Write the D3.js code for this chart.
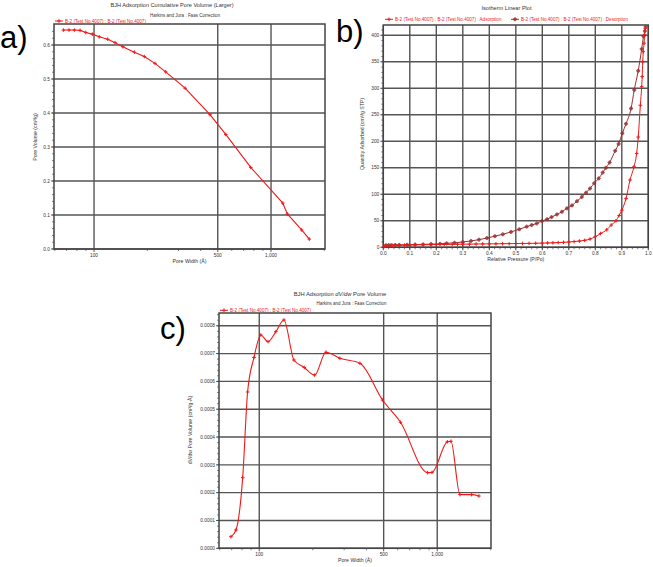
<!DOCTYPE html>
<html><head><meta charset="utf-8">
<script src="https://cdn.jsdelivr.net/npm/d3@7/dist/d3.min.js"></script>
<style>body{margin:0;background:#fff} svg{display:block} text{font-family:Arial,"Liberation Sans",sans-serif}</style>
</head><body><svg id="chart" width="653" height="567"></svg>
<script>
// ---- Panel a: BJH Adsorption Cumulative Pore Volume ----
const cumWidth  = [67.1, 72.2, 77.4, 83.4, 89.8, 97.8, 107, 119.5, 131.4, 145.3, 169, 192.4, 221, 254, 327, 452, 555, 768, 1165, 1236, 1490, 1645];
const cumVolume = [0.644, 0.644, 0.644, 0.643, 0.637, 0.632, 0.624, 0.617, 0.607, 0.595, 0.579, 0.566, 0.546, 0.521, 0.473, 0.395, 0.337, 0.240, 0.135, 0.103, 0.056, 0.029];
// ---- Panel b: Isotherm ----
const adsP = [0.003,0.008,0.015,0.025,0.035,0.045,0.06,0.08,0.10,0.12,0.15,0.18,0.20,0.23,0.26,0.28,0.30,0.325,0.35,0.375,0.40,0.425,0.45,0.475,0.50,0.525,0.55,0.575,0.60,0.62,0.64,0.66,0.68,0.70,0.72,0.74,0.76,0.78,0.80,0.82,0.843,0.86,0.878,0.89,0.90,0.916,0.931,0.946,0.956,0.962,0.970,0.975,0.977,0.979,0.981,0.984,0.986,0.989];
const adsQ = [1.5,2.6,3.0,3.3,3.5,3.7,3.9,4.1,4.3,4.5,4.8,5.0,5.2,5.4,5.6,5.8,5.9,6.0,6.2,6.3,6.5,6.6,6.8,6.9,7.1,7.2,7.4,7.6,7.9,8.2,8.5,8.9,9.4,10.0,10.8,11.8,13.2,15.5,20,26,33,42,50,60,70,92,127,152,177,208,268,303,322,350,369,385,401,413];
const desP = [0.990,0.987,0.982,0.975,0.962,0.947,0.935,0.916,0.902,0.888,0.875,0.854,0.840,0.828,0.813,0.796,0.780,0.765,0.749,0.731,0.712,0.693,0.674,0.655,0.635,0.618,0.599,0.579,0.560,0.541,0.513,0.482,0.451,0.421,0.391,0.361,0.331,0.300,0.269,0.239,0.214,0.180,0.150,0.120,0.090,0.060,0.045,0.030,0.020,0.010];
const desQ = [416,408,398,374,333,297,262,233,215,195,182,160,150,141,130,121,111,103,95,87,79,73.5,67,62,57,53,49.6,45,42,39,34,29,24.5,21,17.5,14.4,12,10,8.5,7.5,6.5,6,5.5,5.2,4.8,4.5,4.3,4.1,4.0,3.8];
// ---- Panel c: dV/dw ----
const dvWidth = [69.3, 74, 80.7, 86, 93.4, 102, 112, 124, 137.6, 156.6, 179, 204.8, 237, 284, 368, 493, 622, 883, 935, 1140, 1194, 1342, 1561, 1716];
const dvValue = [0.0000417, 0.0000658, 0.000254, 0.000562, 0.000686, 0.000767, 0.000743, 0.000779, 0.000821, 0.000677, 0.000650, 0.000623, 0.000705, 0.000683, 0.000665, 0.000533, 0.000453, 0.000272, 0.000273, 0.000383, 0.000385, 0.000193, 0.000193, 0.000188];
// ---- ticks ----
const logTicks = [100, 500, 1000];
const logTickLabels = ["100", "500", "1,000"];
const logMinor = [60,70,80,90,200,300,400,600,700,800,900,2000];
const cumYTicks = [0, 0.1, 0.2, 0.3, 0.4, 0.5, 0.6];
const isoXTicks = [0,0.1,0.2,0.3,0.4,0.5,0.6,0.7,0.8,0.9,1.0];
const isoYTicks = [0,50,100,150,200,250,300,350,400];
const dvYTicks = [0,0.0001,0.0002,0.0003,0.0004,0.0005,0.0006,0.0007,0.0008];

const svg = d3.select("#chart");
svg.append("rect").attr("width",653).attr("height",567).attr("fill","#fff");
const RED = "#f01818", BROWN = "#9a3030", GRID = "#555";

function panel(o){
  const g = svg.append("g");
  const x = o.x, y = o.y;
  const [x0,x1] = x.range(), [y0,y1] = y.range();
  o.xTicks.forEach(t=>g.append("line").attr("x1",x(t)).attr("x2",x(t)).attr("y1",y0).attr("y2",y1).attr("stroke",GRID).attr("stroke-width",1.4));
  o.yTicks.forEach(t=>g.append("line").attr("x1",x0).attr("x2",x1).attr("y1",y(t)).attr("y2",y(t)).attr("stroke",GRID).attr("stroke-width",1.4));
  o.xMinor.forEach(t=>{ if(x(t)>=x0 && x(t)<=x1) g.append("line").attr("x1",x(t)).attr("x2",x(t)).attr("y1",y0).attr("y2",y0+2).attr("stroke","#333").attr("stroke-width",0.6);});
  o.yMinor.forEach(t=>{ if(y(t)<=y0 && y(t)>=y1) g.append("line").attr("x1",x0).attr("x2",x0-2).attr("y1",y(t)).attr("y2",y(t)).attr("stroke","#333").attr("stroke-width",0.6);});
  o.xTicks.forEach(t=>g.append("line").attr("x1",x(t)).attr("x2",x(t)).attr("y1",y0).attr("y2",y0+3).attr("stroke","#333").attr("stroke-width",0.8));
  o.yTicks.forEach(t=>g.append("line").attr("x1",x0).attr("x2",x0-3).attr("y1",y(t)).attr("y2",y(t)).attr("stroke","#333").attr("stroke-width",0.8));
  g.append("rect").attr("x",x0).attr("y",y1).attr("width",x1-x0).attr("height",y0-y1).attr("fill","none").attr("stroke","#444").attr("stroke-width",1.5);
  o.xTicks.forEach((t,i)=>g.append("text").attr("x",x(t)).attr("y",y0+8).attr("text-anchor","middle").attr("font-size",4.8).attr("fill","#333").text(o.xLabels[i]));
  o.yTicks.forEach((t,i)=>g.append("text").attr("x",x0-4).attr("y",y(t)+1.7).attr("text-anchor","end").attr("font-size",4.8).attr("fill","#333").text(o.yLabels[i]));
  g.append("text").attr("x",(x0+x1)/2+o.xTitleDx).attr("y",y0+14).attr("text-anchor","middle").attr("font-size",5.2).attr("fill","#333").text(o.xTitle);
  g.append("text").attr("transform",`translate(${o.yTitleX},${o.yTitleY}) rotate(-90)`).attr("text-anchor","middle").attr("font-size",5.2).attr("fill","#333").text(o.yTitle);
  return g;
}

function plusMarks(g, pts, x, y, color){
  g.selectAll(null).data(pts).enter().append("path")
    .attr("d",d=>`M${x(d[0])-1.8},${y(d[1])}H${x(d[0])+1.8}M${x(d[0])},${y(d[1])-1.8}V${y(d[1])+1.8}`)
    .attr("stroke",color).attr("stroke-width",1).attr("fill","none");
}
function circMarks(g, pts, x, y, color){
  g.selectAll(null).data(pts).enter().append("circle")
    .attr("cx",d=>x(d[0])).attr("cy",d=>y(d[1])).attr("r",1.5).attr("fill",color).attr("fill-opacity",0.55).attr("stroke",color).attr("stroke-width",0.6);
  g.selectAll(null).data(pts).enter().append("path")
    .attr("d",d=>`M${x(d[0])-2},${y(d[1])}H${x(d[0])+2}M${x(d[0])},${y(d[1])-2}V${y(d[1])+2}`)
    .attr("stroke",color).attr("stroke-width",0.6);
}

// ===== Panel a =====
{
  const x = d3.scaleLog().domain([59.4, 2018]).range([54, 325]);
  const y = d3.scaleLinear().domain([0, 0.6618]).range([249, 24]);
  const g = panel({x,y,xTicks:logTicks,xLabels:logTickLabels,xMinor:logMinor,
    yTicks:cumYTicks,yLabels:cumYTicks.map(d=>d.toFixed(1)),yMinor:d3.range(0,0.66,0.02),
    xTitle:"Pore Width (Å)",xTitleDx:0,yTitle:"Pore Volume (cm³/g)",yTitleX:37,yTitleY:137});
  const pts = cumWidth.map((w,i)=>[w,cumVolume[i]]);
  g.append("path").datum(pts).attr("d",d3.line().x(d=>x(d[0])).y(d=>y(d[1])).curve(d3.curveLinear))
    .attr("fill","none").attr("stroke",RED).attr("stroke-width",1.1);
  plusMarks(g, pts, x, y, RED);
  svg.append("text").attr("x",172).attr("y",6.5).attr("text-anchor","middle").attr("font-size",5.6).attr("fill","#333").text("BJH Adsorption Cumulative Pore Volume (Larger)");
  svg.append("text").attr("x",185).attr("y",16.5).attr("text-anchor","middle").attr("font-size",4.5).attr("fill","#333").text("Harkins and Jura : Faas Correction");
  svg.append("line").attr("x1",55).attr("x2",63).attr("y1",21).attr("y2",21).attr("stroke",RED).attr("stroke-width",1);
  plusMarks(svg, [[59,21]], d=>d, d=>d, RED);
  svg.append("text").attr("x",65).attr("y",22.6).attr("font-size",4.6).attr("fill",RED).text("B-2 (Test No.4007) : B-2 (Test No.4007)");
  svg.append("text").attr("x",0).attr("y",48).attr("font-size",31).attr("fill","#000").text("a)");
}

// ===== Panel b =====
{
  const x = d3.scaleLinear().domain([0, 1]).range([383.3, 648.3]);
  const y = d3.scaleLinear().domain([0, 419.4]).range([247.3, 25]);
  const g = panel({x,y,xTicks:isoXTicks,xLabels:isoXTicks.map(d=>d.toFixed(1)),xMinor:d3.range(0,1.001,0.02),
    yTicks:isoYTicks,yLabels:isoYTicks.map(d=>d===0?"0":String(d)),yMinor:d3.range(0,420,10),
    xTitle:"Relative Pressure (P/Po)",xTitleDx:0,yTitle:"Quantity Adsorbed (cm³/g STP)",yTitleX:364,yTitleY:134});
  const ads = adsP.map((p,i)=>[p,adsQ[i]]);
  const des = desP.map((p,i)=>[p,desQ[i]]).sort((a,b)=>a[0]-b[0]);
  const line = d3.line().x(d=>x(d[0])).y(d=>y(d[1])).curve(d3.curveMonotoneX);
  g.append("path").datum(des).attr("d",line).attr("fill","none").attr("stroke",BROWN).attr("stroke-width",1);
  circMarks(g, des, x, y, BROWN);
  g.append("path").datum(ads).attr("d",line).attr("fill","none").attr("stroke",RED).attr("stroke-width",1);
  plusMarks(g, ads, x, y, RED);
  svg.append("text").attr("x",506.5).attr("y",10).attr("text-anchor","middle").attr("font-size",5.6).attr("fill","#333").text("Isotherm Linear Plot");
  svg.append("line").attr("x1",385).attr("x2",393).attr("y1",19.3).attr("y2",19.3).attr("stroke",RED).attr("stroke-width",1);
  plusMarks(svg, [[389,19.3]], d=>d, d=>d, RED);
  svg.append("text").attr("x",395).attr("y",21).attr("font-size",4.6).attr("fill",RED).text("B-2 (Test No.4007) : B-2 (Test No.4007) : Adsorption");
  svg.append("line").attr("x1",511).attr("x2",519).attr("y1",19.3).attr("y2",19.3).attr("stroke",BROWN).attr("stroke-width",1);
  circMarks(svg, [[515,19.3]], d=>d, d=>d, BROWN);
  svg.append("text").attr("x",521).attr("y",21).attr("font-size",4.6).attr("fill",RED).text("B-2 (Test No.4007) : B-2 (Test No.4007) : Desorption");
  svg.append("text").attr("x",336).attr("y",42).attr("font-size",31).attr("fill","#000").text("b)");
}

// ===== Panel c =====
{
  const x = d3.scaleLog().domain([59.4, 2005]).range([219, 491]);
  const y = d3.scaleLinear().domain([0, 0.000846]).range([548.3, 313]);
  const g = panel({x,y,xTicks:logTicks,xLabels:logTickLabels,xMinor:logMinor,
    yTicks:dvYTicks,yLabels:dvYTicks.map(d=>d.toFixed(4)),yMinor:d3.range(0,0.00085,0.00002),
    xTitle:"Pore Width (Å)",xTitleDx:0,yTitle:"dV/dw Pore Volume (cm³/g·Å)",yTitleX:192,yTitleY:430});
  const pts = dvWidth.map((w,i)=>[w,dvValue[i]]);
  g.append("path").datum(pts).attr("d",d3.line().x(d=>x(d[0])).y(d=>y(d[1])).curve(d3.curveMonotoneX))
    .attr("fill","none").attr("stroke",RED).attr("stroke-width",1.1);
  plusMarks(g, pts, x, y, RED);
  const t = svg.append("text").attr("x",340).attr("y",295.5).attr("text-anchor","middle").attr("font-size",5.8).attr("fill","#333");
  t.append("tspan").text("BJH Adsorption ");
  t.append("tspan").attr("font-style","italic").text("dV/dw");
  t.append("tspan").text(" Pore Volume");
  svg.append("text").attr("x",351.5).attr("y",305).attr("text-anchor","middle").attr("font-size",4.5).attr("fill","#333").text("Harkins and Jura : Faas Correction");
  svg.append("line").attr("x1",220).attr("x2",228).attr("y1",310.3).attr("y2",310.3).attr("stroke",RED).attr("stroke-width",1);
  plusMarks(svg, [[224,310.3]], d=>d, d=>d, RED);
  svg.append("text").attr("x",230).attr("y",311.8).attr("font-size",4.6).attr("fill",RED).text("B-2 (Test No.4007) : B-2 (Test No.4007)");
  svg.append("text").attr("x",160).attr("y",339).attr("font-size",31).attr("fill","#000").text("c)");
}
</script></body></html>
